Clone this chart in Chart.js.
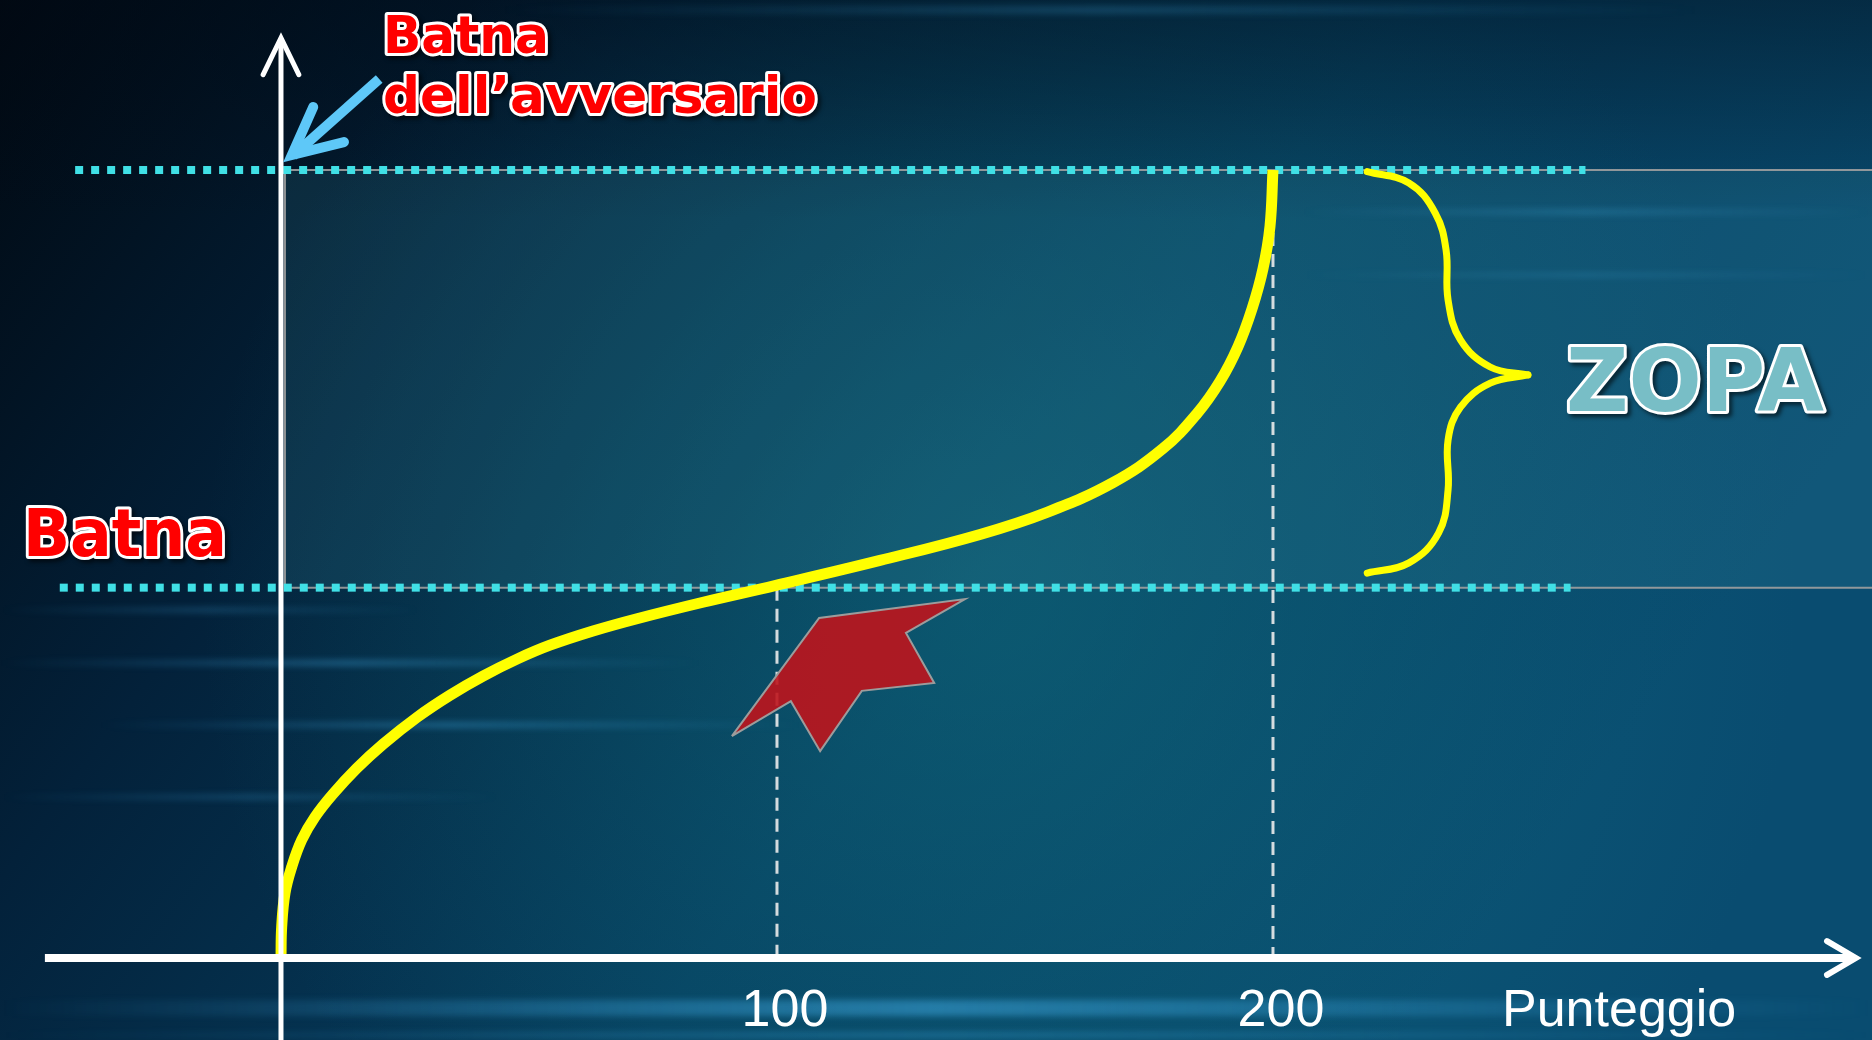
<!DOCTYPE html>
<html>
<head>
<meta charset="utf-8">
<script src="https://cdn.jsdelivr.net/npm/chart.js@4.4.1/dist/chart.umd.min.js"></script>
<style>
  html, body { margin: 0; padding: 0; background: #02101c; }
  #wrap { width: 1872px; height: 1040px; }
</style>
</head>
<body>
<div id="wrap"><canvas id="zopaChart" width="1872" height="1040"></canvas></div>
<script>
// curva: punteggio (x) e utilità (y)
const curveX = [0, 0.14, 0.81, 2.16, 4.17, 6.85, 10.48, 15.26, 20.56, 27.42, 34.07, 40.73, 47.58, 54.23, 62.9, 71.77, 85.08, 99.6, 120.77, 140.93, 154.44, 167.74, 177.82, 184.68, 189.31, 192.94, 195.77, 197.98, 199.4, 200];
const curveY = [0, 7.87, 16.5, 23.1, 29.95, 35.79, 41.62, 48.12, 54.26, 61.09, 66.7, 71.55, 75.86, 79.39, 83.0, 86.12, 90.3, 94.52, 100.91, 107.51, 113.12, 120.66, 129.29, 138.17, 146.35, 155.15, 164.75, 174.9, 185.74, 200];

// livelli di riferimento
const batna = 94;
const batnaAvversario = 200;
const xTicks = [100, 200];
const xLabels = ["100", "200"];

// freccia rossa (in unità del grafico)
const redArrowX = [90.9, 102.8, 108.7, 117.1, 131.7, 126.0, 137.9, 108.5, 90.9];
const redArrowY = [56.3, 65.2, 52.5, 67.8, 69.8, 82.5, 91.1, 86.3, 56.3];

// parentesi graffa della ZOPA
const braceTopX = [219.0, 227.4, 232.7, 234.9, 235.3, 237.8, 243.8, 251.4];
const braceTopY = [199.6, 196.7, 189.1, 179.7, 167.0, 156.9, 150.0, 148.0];
const braceBotX = [251.4, 243.8, 237.8, 235.3, 235.3, 233.4, 227.4, 219.0];
const braceBotY = [148.0, 145.9, 139.8, 131.5, 118.8, 107.9, 100.3, 97.7];

// freccia azzurra verso la Batna dell'avversario
const blueShaftX = [19.8, 2.4];
const blueShaftY = [223.1, 203.6];
const blueHeadX = [6.5, 2.2, 12.7];
const blueHeadY = [216.0, 203.8, 207.1];

function pts(xs, ys) {
  return xs.map((x, i) => ({ x: x, y: ys[i] }));
}

const X_MIN = -56.65, X_MAX = 320.77, Y_MIN = -20.81, Y_MAX = 243.15;

const datasets = [
  // freccia azzurra
  { data: pts(blueShaftX, blueShaftY), borderColor: "#5ec8f8", borderWidth: 10, borderCapStyle: "butt", order: 1 },
  { data: pts(blueHeadX, blueHeadY), borderColor: "#5ec8f8", borderWidth: 10, borderCapStyle: "round", borderJoinStyle: "miter", order: 1 },
  // assi
  { data: pts([0, 0], [Y_MIN, 233.5]), borderColor: "#ffffff", borderWidth: 5, order: 2 },
  { data: pts([-3.6, 0, 3.6], [224.2, 233.5, 224.2]), borderColor: "#ffffff", borderWidth: 5, borderCapStyle: "round", order: 2 },
  { data: pts([-47.6, 316.5], [0, 0]), borderColor: "#ffffff", borderWidth: 8, order: 2 },
  { data: pts([311.7, 317.5, 311.7], [4.3, 0, -4.3]), borderColor: "#ffffff", borderWidth: 6, borderCapStyle: "round", order: 2 },
  // parentesi graffa
  { data: pts(braceTopX, braceTopY), borderColor: "#ffff00", borderWidth: 7, tension: 0.4, borderCapStyle: "round", order: 3 },
  { data: pts(braceBotX, braceBotY), borderColor: "#ffff00", borderWidth: 7, tension: 0.4, borderCapStyle: "round", order: 3 },
  // freccia rossa
  { data: pts(redArrowX, redArrowY), borderColor: "#9c9c9c", borderWidth: 2, backgroundColor: "rgba(190,20,28,0.9)", fill: "shape", order: 4 },
  // curva
  { data: pts(curveX, curveY), borderColor: "#ffff00", borderWidth: 11, tension: 0.4, order: 5 },
  // linee verticali tratteggiate
  { data: pts([xTicks[0], xTicks[0]], [batna, 0]), borderColor: "rgba(235,235,235,0.9)", borderWidth: 3, borderDash: [13, 8], order: 6 },
  { data: pts([xTicks[1], xTicks[1]], [batnaAvversario, 0]), borderColor: "rgba(235,235,235,0.9)", borderWidth: 3, borderDash: [13, 8], order: 6 },
  // linee punteggiate delle Batna
  { data: pts([-41.5, 263], [batnaAvversario, batnaAvversario]), borderColor: "#40e0e6", borderWidth: 8, borderDash: [8, 8], order: 7 },
  { data: pts([-44.6, 260], [batna, batna]), borderColor: "#40e0e6", borderWidth: 8, borderDash: [8, 8], order: 7 },
  // fascia ZOPA
  { data: pts([0.8, 0.8, X_MAX + 2, X_MAX + 2, 0.8], [batna, batnaAvversario, batnaAvversario, batna, batna]),
    borderColor: "rgba(160,160,160,0.9)", borderWidth: 2, backgroundColor: "rgba(60,150,165,0.16)", fill: "shape", order: 8 }
];

const bgPlugin = {
  id: "sfondo",
  beforeDraw(chart) {
    const { ctx, width, height } = chart;
    ctx.save();
    const g = ctx.createLinearGradient(0, 0, width * 0.75, height);
    g.addColorStop(0, "#010810");
    g.addColorStop(0.3, "#03213a");
    g.addColorStop(0.65, "#063f60");
    g.addColorStop(1, "#094c70");
    ctx.fillStyle = g;
    ctx.fillRect(0, 0, width, height);
    const r = ctx.createRadialGradient(1000, 600, 40, 1000, 600, 800);
    r.addColorStop(0, "rgba(20,125,135,0.38)");
    r.addColorStop(1, "rgba(20,125,135,0)");
    ctx.fillStyle = r;
    ctx.fillRect(0, 0, width, height);
    const top = ctx.createLinearGradient(0, 0, 0, 220);
    top.addColorStop(0, "rgba(0,10,22,0.45)");
    top.addColorStop(1, "rgba(0,10,22,0)");
    ctx.fillStyle = top;
    ctx.fillRect(0, 0, width, 220);
    // strisce luminose orizzontali
    const streaks = [
      [1008, 0, 1872, 16, 0.45], [610, 0, 420, 5, 0.25], [663, 0, 700, 6, 0.35],
      [725, 100, 800, 6, 0.35], [797, 0, 500, 5, 0.25], [212, 1300, 1872, 5, 0.3],
      [275, 1300, 1872, 4, 0.25], [10, 500, 1700, 8, 0.22], [1035, 0, 1872, 6, 0.3]
    ];
    streaks.forEach(([y, x0, x1, h, a]) => {
      const lg = ctx.createLinearGradient(x0, 0, x1, 0);
      lg.addColorStop(0, "rgba(70,180,240,0)");
      lg.addColorStop(0.5, "rgba(70,180,240," + a + ")");
      lg.addColorStop(1, "rgba(70,180,240,0)");
      ctx.fillStyle = lg;
      ctx.filter = "blur(3px)";
      ctx.fillRect(x0, y - h / 2, x1 - x0, h);
    });
    ctx.filter = "none";
    ctx.restore();
  }
};

function fitText(ctx, text, x, y, font, width, fill, stroke, sw, shadow) {
  ctx.save();
  ctx.font = font;
  const w = ctx.measureText(text).width;
  ctx.translate(x, y);
  ctx.scale(width / w, 1);
  ctx.lineJoin = "round";
  if (shadow) {
    ctx.shadowColor = "rgba(0,0,0,0.6)";
    ctx.shadowOffsetX = 3;
    ctx.shadowOffsetY = 3;
    ctx.shadowBlur = 4;
  }
  if (stroke) {
    ctx.strokeStyle = stroke;
    ctx.lineWidth = sw;
    ctx.strokeText(text, 0, 0);
    ctx.shadowColor = "transparent";
  }
  ctx.fillStyle = fill;
  ctx.fillText(text, 0, 0);
  ctx.restore();
}

const textPlugin = {
  id: "testi",
  afterDraw(chart) {
    const ctx = chart.ctx;
    const xs = chart.scales.x;
    const bold = "bold 52px 'DejaVu Sans', Verdana, sans-serif";
    fitText(ctx, "Batna", 383, 53, bold, 166, "#ff0000", "#ffffff", 6, true);
    fitText(ctx, "dell’avversario", 383, 113, bold, 434, "#ff0000", "#ffffff", 6, true);
    fitText(ctx, "Batna", 23, 556, "bold 66px 'DejaVu Sans', Verdana, sans-serif", 204, "#ff0000", "#ffffff", 6, true);
    fitText(ctx, "ZOPA", 1566, 411, "bold 88px 'DejaVu Sans', Verdana, sans-serif", 258, "#78bec6", "#ffffff", 6, true);

    ctx.save();
    ctx.font = "52px 'Liberation Sans', Arial, sans-serif";
    ctx.fillStyle = "#ffffff";
    ctx.textBaseline = "alphabetic";
    ctx.textAlign = "center";
    xTicks.forEach((v, i) => {
      ctx.fillText(xLabels[i], xs.getPixelForValue(v) + 8, 1026);
    });
    ctx.textAlign = "left";
    ctx.fillText("Punteggio", 1502, 1026);
    ctx.restore();
  }
};

new Chart(document.getElementById("zopaChart").getContext("2d"), {
  type: "line",
  data: { datasets: datasets.map((d) => Object.assign({ pointRadius: 0, fill: false, tension: 0 }, d)) },
  options: {
    responsive: false,
    animation: false,
    events: [],
    layout: { padding: 0 },
    plugins: { legend: { display: false }, tooltip: { enabled: false } },
    scales: {
      x: { type: "linear", min: X_MIN, max: X_MAX, display: false },
      y: { type: "linear", min: Y_MIN, max: Y_MAX, display: false }
    }
  },
  plugins: [bgPlugin, textPlugin]
});
</script>
</body>
</html>
